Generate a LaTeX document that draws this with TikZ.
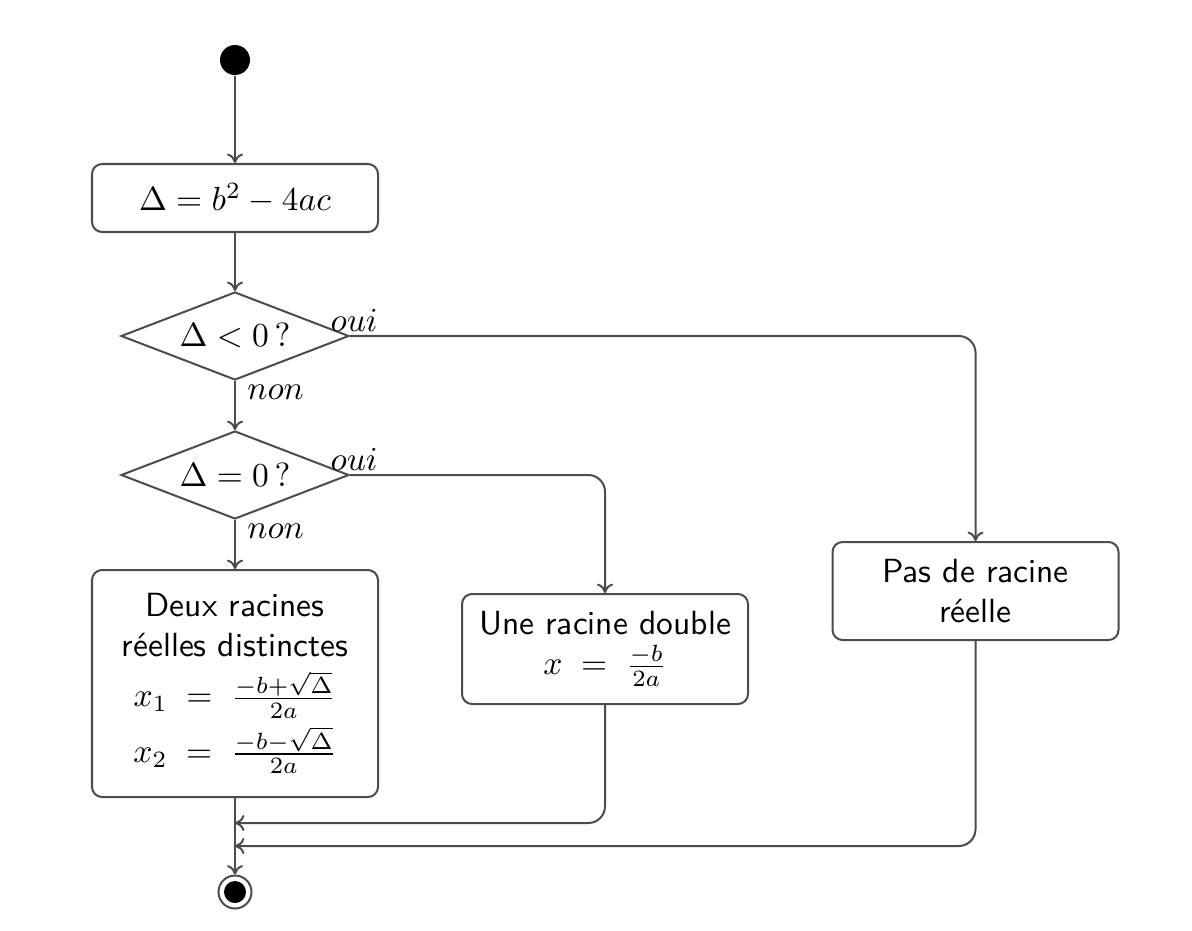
\documentclass[tikz,border=0pt]{standalone}
\usepackage{amsmath}
\usetikzlibrary{shapes.geometric,arrows.meta}
\begin{document}
\begin{tikzpicture}[x=0.2985pt,y=-0.2985pt,
  ln/.style={draw=black!70, line width=0.6pt},
  arr/.style={ln, -{To[length=2.8pt,width=4.8pt]}},
  box/.style={draw=black!70, line width=0.6pt, rounded corners=3pt, align=center,
              font=\sffamily, inner sep=0pt},
  dec/.style={diamond, aspect=2.6, draw=black!70, line width=0.6pt, inner sep=0pt},
  lab/.style={inner sep=1pt}]
\useasboundingbox (0,0) rectangle (1192,930);
\node[circle, fill=black, minimum size=30*0.2985pt, inner sep=0pt] (start) at (235,60) {};
\node[box, minimum width=286*0.2985pt, minimum height=68*0.2985pt] (calc) at (235,198)
  {$\Delta = b^2 - 4ac$};
\node[dec, minimum width=228*0.2985pt, minimum height=88*0.2985pt] (d1) at (235,336)
  {$\Delta < 0\,?$};
\node[dec, minimum width=228*0.2985pt, minimum height=88*0.2985pt] (d2) at (235,475)
  {$\Delta = 0\,?$};
\node[box, minimum width=286*0.2985pt, minimum height=227*0.2985pt] (two) at (235,683.5)
  {Deux racines\\réelles distinctes\\[3pt]
   $x_1\;=\;\frac{-b+\sqrt{\Delta}}{2a}$\\[1.5pt]
   $x_2\;=\;\frac{-b-\sqrt{\Delta}}{2a}$};
\node[box, minimum width=286*0.2985pt, minimum height=110*0.2985pt] (one) at (605,649)
  {Une racine double\\$x\;=\;\frac{-b}{2a}$};
\node[box, minimum width=286*0.2985pt, minimum height=98*0.2985pt] (none) at (975.5,591)
  {Pas de racine\\réelle};
\node[circle, draw=black!70, line width=0.6pt, minimum size=33*0.2985pt, inner sep=0pt] (stop) at (235,892) {};
\node[circle, fill=black, minimum size=22*0.2985pt, inner sep=0pt] (stopdot) at (stop) {};
\coordinate (m1) at (235,823);
\coordinate (m2) at (235,846);
\draw[arr] (start) -- (calc);
\draw[arr] (calc) -- (d1);
\draw[arr] (d1) -- (d2);
\draw[arr] (d2) -- (two);
\draw[arr] (two) -- (stop);
\draw[arr, rounded corners=5pt] (d1.east) -| (none.north);
\draw[arr, rounded corners=5pt] (d2.east) -| (one.north);
\draw[arr, rounded corners=5pt] (one.south) |- (m1);
\draw[arr, rounded corners=5pt] (none.south) |- (m2);
\node[lab, anchor=south] (o1) at ([xshift=1.2pt]d1.east) {$oui$};
\node[lab, anchor=south] (o2) at ([xshift=1.2pt]d2.east) {$oui$};
\node[lab, anchor=north west] (n1) at ([xshift=2.5pt]d1.south) {$non$};
\node[lab, anchor=north west] (n2) at ([xshift=2.5pt]d2.south) {$non$};
\end{tikzpicture}
\end{document}
